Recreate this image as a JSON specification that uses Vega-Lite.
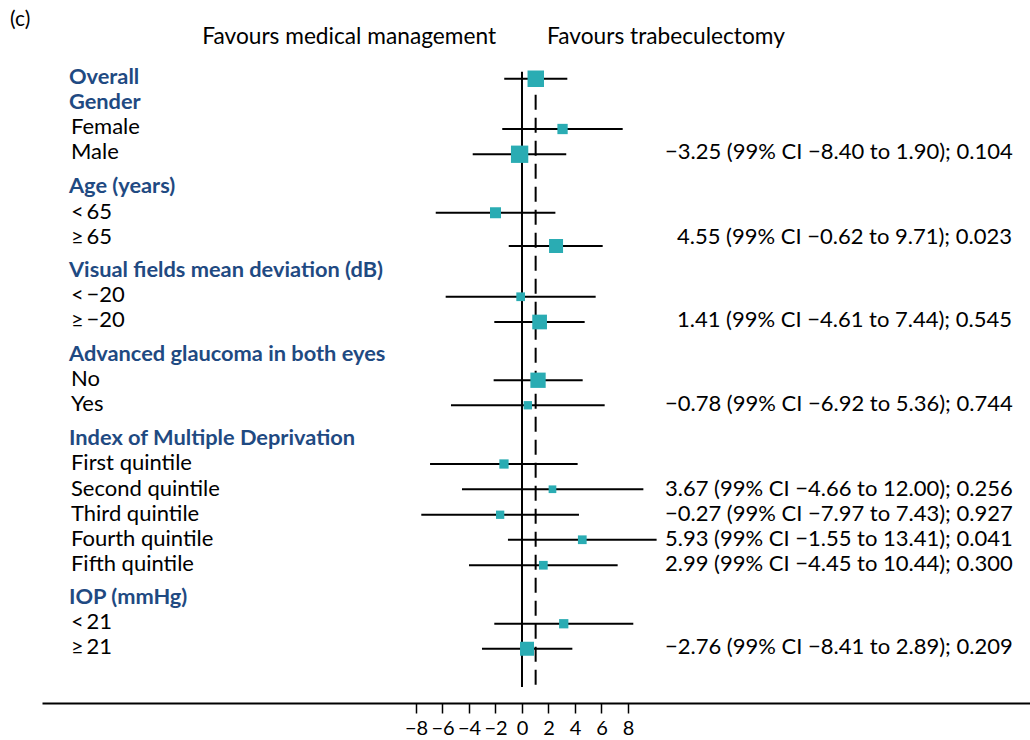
{
  "$schema": "https://vega.github.io/schema/vega-lite/v6.json",
  "width": 988,
  "height": 703,
  "autosize": {"type": "none"},
  "padding": {"left": 42, "top": 0, "right": 0, "bottom": 37},
  "background": "white",
  "config": {
    "view": {"stroke": null},
    "font": "Lato",
    "axis": {"grid": false}
  },
  "datasets": {
    "rows": [
      {"label": "Overall", "kind": "header", "r": 0, "rm": 0.07, "est": 1.04, "lo": -1.34, "hi": 3.42, "w": 272, "txt": ""},
      {"label": "Gender", "kind": "header", "r": 1, "txt": ""},
      {"label": "Female", "kind": "sub", "r": 2, "rm": 2.08, "est": 3.06, "lo": -1.49, "hi": 7.6, "w": 106, "txt": ""},
      {"label": "Male", "kind": "sub", "r": 3, "rm": 3.09, "est": -0.18, "lo": -3.72, "hi": 3.34, "w": 300, "txt": "−3.25 (99% CI −8.40 to 1.90); 0.104"},
      {"label": "Age (years)", "kind": "header", "r": 4.36, "txt": ""},
      {"label": "<\u200965", "kind": "sub", "r": 5.4, "rm": 5.43, "est": -2.0, "lo": -6.51, "hi": 2.52, "w": 121, "txt": ""},
      {"label": "≥\u200965", "kind": "sub", "r": 6.4, "rm": 6.76, "est": 2.57, "lo": -1.0, "hi": 6.09, "w": 196, "txt": "4.55 (99% CI −0.62 to 9.71); 0.023"},
      {"label": "Visual fields mean deviation (dB)", "kind": "header", "r": 7.72, "txt": ""},
      {"label": "<\u2009−20", "kind": "sub", "r": 8.72, "rm": 8.79, "est": -0.1, "lo": -5.76, "hi": 5.56, "w": 76, "txt": ""},
      {"label": "≥\u2009−20", "kind": "sub", "r": 9.72, "rm": 9.8, "est": 1.33, "lo": -2.09, "hi": 4.73, "w": 216, "txt": "1.41 (99% CI −4.61 to 7.44); 0.545"},
      {"label": "Advanced glaucoma in both eyes", "kind": "header", "r": 11.08, "txt": ""},
      {"label": "No", "kind": "sub", "r": 12.08, "rm": 12.13, "est": 1.21, "lo": -2.14, "hi": 4.58, "w": 234, "txt": ""},
      {"label": "Yes", "kind": "sub", "r": 13.08, "rm": 13.13, "est": 0.44, "lo": -5.36, "hi": 6.24, "w": 69, "txt": "−0.78 (99% CI −6.92 to 5.36); 0.744"},
      {"label": "Index of Multiple Deprivation", "kind": "header", "r": 14.42, "txt": ""},
      {"label": "First quintile", "kind": "sub", "r": 15.44, "rm": 15.48, "est": -1.36, "lo": -6.94, "hi": 4.2, "w": 86, "txt": ""},
      {"label": "Second quintile", "kind": "sub", "r": 16.46, "rm": 16.49, "est": 2.3, "lo": -4.53, "hi": 9.16, "w": 59, "txt": "3.67 (99% CI −4.66 to 12.00); 0.256"},
      {"label": "Third quintile", "kind": "sub", "r": 17.48, "rm": 17.51, "est": -1.65, "lo": -7.6, "hi": 4.3, "w": 69, "txt": "−0.27 (99% CI −7.97 to 7.43); 0.927"},
      {"label": "Fourth quintile", "kind": "sub", "r": 18.48, "rm": 18.51, "est": 4.55, "lo": -1.06, "hi": 10.16, "w": 76, "txt": "5.93 (99% CI −1.55 to 13.41); 0.041"},
      {"label": "Fifth quintile", "kind": "sub", "r": 19.48, "rm": 19.53, "est": 1.61, "lo": -4.0, "hi": 7.22, "w": 76, "txt": "2.99 (99% CI −4.45 to 10.44); 0.300"},
      {"label": "IOP (mmHg)", "kind": "header", "r": 20.8, "txt": ""},
      {"label": "<\u200921", "kind": "sub", "r": 21.8, "rm": 21.87, "est": 3.15, "lo": -2.09, "hi": 8.4, "w": 86, "txt": ""},
      {"label": "≥\u200921", "kind": "sub", "r": 22.8, "rm": 22.87, "est": 0.38, "lo": -3.02, "hi": 3.8, "w": 196, "txt": "−2.76 (99% CI −8.41 to 2.89); 0.209"}
    ],
    "refs": [
      {"name": "no effect", "x": 0, "dash": "solid"},
      {"name": "overall", "x": 1.03, "dash": "dashed"}
    ],
    "headers": [
      {"t": "Favours medical management", "side": "left"},
      {"t": "Favours trabeculectomy", "side": "right"}
    ]
  },
  "layer": [
    {
      "data": {"name": "refs"},
      "mark": {"type": "rule", "color": "black", "strokeWidth": 2},
      "encoding": {
        "x": {"field": "x", "type": "quantitative",
              "scale": {"domain": [-36.226, 38.34], "nice": false, "zero": false},
              "axis": {"title": null, "values": [-8, -6, -4, -2, 0, 2, 4, 6, 8], "domainColor": "black", "domainWidth": 2, "tickColor": "black", "tickSize": 10, "tickWidth": 1.5, "labelFont": "Lato", "labelFontSize": 20, "labelColor": "black", "labelPadding": 5, "grid": false}},
        "y": {"datum": -0.21, "type": "quantitative",
              "scale": {"domain": [-3.08, 25.04], "reverse": true, "nice": false, "zero": false}, "axis": null},
        "y2": {"datum": 24.4},
        "strokeDash": {"field": "dash", "type": "nominal", "scale": {"domain": ["solid", "dashed"], "range": [[1, 0], [15, 8]]}, "legend": null}
      }
    },
    {
      "data": {"name": "rows"},
      "transform": [{"filter": "isValid(datum.est)"}],
      "mark": {"type": "rule", "color": "black", "strokeWidth": 1.8},
      "encoding": {
        "x": {"field": "lo", "type": "quantitative",
              "axis": {"title": null, "values": [-8, -6, -4, -2, 0, 2, 4, 6, 8], "domainColor": "black", "domainWidth": 2, "tickColor": "black", "tickSize": 10, "tickWidth": 1.5, "labelFont": "Lato", "labelFontSize": 20, "labelColor": "black", "labelPadding": 5, "grid": false}},
        "x2": {"field": "hi"},
        "y": {"field": "rm", "type": "quantitative", "axis": null}
      }
    },
    {
      "data": {"name": "rows"},
      "transform": [{"filter": "isValid(datum.est)"}],
      "mark": {"type": "point", "shape": "square", "filled": true, "opacity": 1, "color": "#2aacb3"},
      "encoding": {
        "x": {"field": "est", "type": "quantitative",
              "axis": {"title": null, "values": [-8, -6, -4, -2, 0, 2, 4, 6, 8], "domainColor": "black", "domainWidth": 2, "tickColor": "black", "tickSize": 10, "tickWidth": 1.5, "labelFont": "Lato", "labelFontSize": 20, "labelColor": "black", "labelPadding": 5, "grid": false}},
        "y": {"field": "rm", "type": "quantitative", "axis": null},
        "size": {"field": "w", "type": "quantitative", "scale": {"domain": [0, 300], "range": [0, 300]}, "legend": null}
      }
    },
    {
      "data": {"name": "rows"},
      "transform": [{"filter": "datum.kind === 'header'"}],
      "mark": {"type": "text", "align": "left", "baseline": "middle", "font": "Lato", "fontSize": 21.8, "fontWeight": "bold", "color": "#1f4a82"},
      "encoding": {
        "x": {"datum": -34.19, "type": "quantitative"},
        "y": {"field": "r", "type": "quantitative", "axis": null},
        "text": {"field": "label"}
      }
    },
    {
      "data": {"name": "rows"},
      "transform": [{"filter": "datum.kind === 'sub'"}],
      "mark": {"type": "text", "align": "left", "baseline": "middle", "font": "Lato", "fontSize": 22, "color": "black"},
      "encoding": {
        "x": {"datum": -34.04, "type": "quantitative"},
        "y": {"field": "r", "type": "quantitative", "axis": null},
        "text": {"field": "label"}
      }
    },
    {
      "data": {"name": "rows"},
      "transform": [{"filter": "datum.txt !== '' && datum.r !== 6.4 && datum.r !== 9.72"}],
      "mark": {"type": "text", "align": "left", "baseline": "middle", "font": "Lato", "fontSize": 22, "color": "black"},
      "encoding": {
        "x": {"datum": 10.79, "type": "quantitative"},
        "y": {"field": "r", "type": "quantitative", "axis": null},
        "text": {"field": "txt"}
      }
    },
    {
      "data": {"name": "rows"},
      "transform": [{"filter": "datum.r === 6.4 || datum.r === 9.72"}],
      "mark": {"type": "text", "align": "left", "baseline": "middle", "font": "Lato", "fontSize": 22, "color": "black", "dx": 12},
      "encoding": {
        "x": {"datum": 10.79, "type": "quantitative"},
        "y": {"field": "r", "type": "quantitative", "axis": null},
        "text": {"field": "txt"}
      }
    },
    {
      "data": {"name": "headers"},
      "transform": [{"filter": "datum.side === 'left'"}],
      "mark": {"type": "text", "align": "right", "baseline": "middle", "font": "Lato", "fontSize": 22.7, "color": "black"},
      "encoding": {
        "x": {"datum": -1.96, "type": "quantitative"},
        "y": {"datum": -1.6, "type": "quantitative", "axis": null},
        "text": {"field": "t"}
      }
    },
    {
      "data": {"name": "headers"},
      "transform": [{"filter": "datum.side === 'right'"}],
      "mark": {"type": "text", "align": "left", "baseline": "middle", "font": "Lato", "fontSize": 22.7, "color": "black"},
      "encoding": {
        "x": {"datum": 1.89, "type": "quantitative"},
        "y": {"datum": -1.6, "type": "quantitative", "axis": null},
        "text": {"field": "t"}
      }
    },
    {
      "data": {"values": [{"t": "(c)"}]},
      "mark": {"type": "text", "align": "left", "baseline": "middle", "font": "Lato", "fontSize": 21, "color": "black"},
      "encoding": {
        "x": {"datum": -38.64, "type": "quantitative"},
        "y": {"datum": -2.3, "type": "quantitative", "axis": null},
        "text": {"field": "t"}
      }
    }
  ]
}
